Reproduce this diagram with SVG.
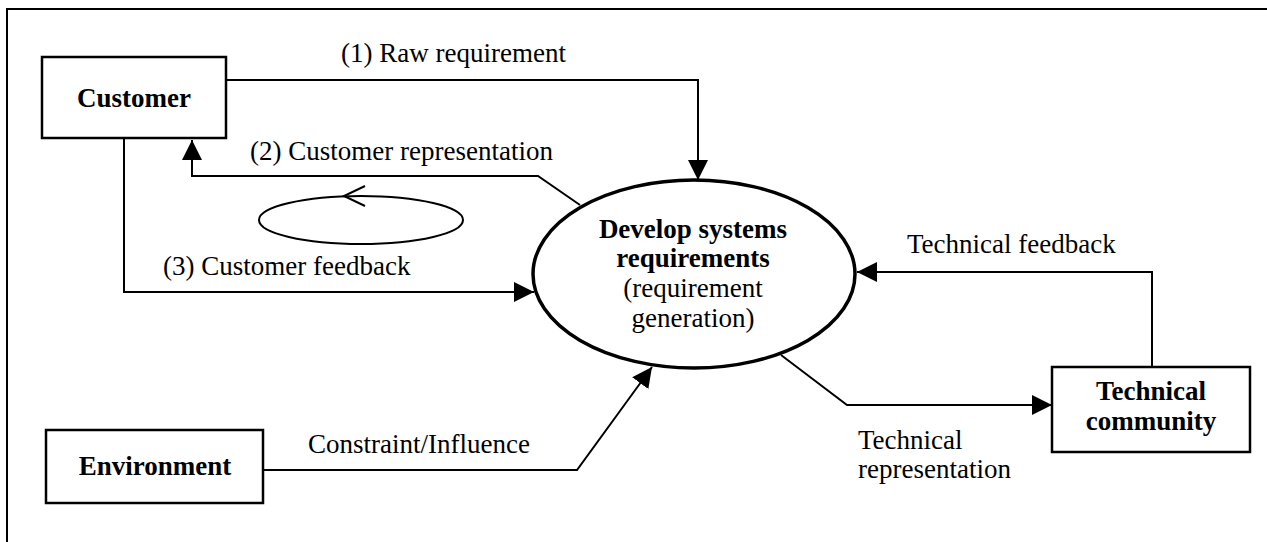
<svg xmlns="http://www.w3.org/2000/svg" width="1267" height="542" viewBox="0 0 1267 542">
<style>
text{font-family:"Liberation Serif","Times New Roman",serif;font-size:27px;fill:#000}
.b{font-weight:bold}
.c{text-anchor:middle}
.box{fill:#fff;stroke:#000;stroke-width:2.5}
.ln{fill:none;stroke:#000;stroke-width:2}
</style>
<defs>
<marker id="ah" viewBox="0 0 20 20" refX="20" refY="10" markerWidth="20" markerHeight="20" markerUnits="userSpaceOnUse" orient="auto">
<path d="M0,0 L20,10 L0,20 z" fill="#000"/>
</marker>
</defs>
<rect width="1267" height="542" fill="#fff"/>
<path class="ln" d="M7,542 V9 H1267"/>
<g id="connectors">
<path class="ln" d="M226,80 H698 V180" marker-end="url(#ah)"/>
<path class="ln" d="M580,205 L538,176 H192 V140" marker-end="url(#ah)"/>
<path class="ln" d="M124,138 V292 H534" marker-end="url(#ah)"/>
<path class="ln" d="M263,470 H577 L652,367" marker-end="url(#ah)"/>
<path class="ln" d="M1152,367 V272 H857" marker-end="url(#ah)"/>
<path class="ln" d="M781,355 L847,405 H1052" marker-end="url(#ah)"/>
<text x="341" y="62">(1) Raw requirement</text>
<text x="250" y="160">(2) Customer representation</text>
<text x="163" y="275">(3) Customer feedback</text>
<text x="308" y="453">Constraint/Influence</text>
<text x="907" y="253">Technical feedback</text>
<text x="858" y="449">Technical</text>
<text x="858" y="478">representation</text>
</g>
<g id="cycle">
<ellipse cx="361" cy="220" rx="102" ry="24" class="ln"/>
<path class="ln" d="M365,186 L344,196 L365,206"/>
</g>
<g id="customer">
<rect class="box" x="42" y="57" width="184" height="81"/>
<text class="b c" x="134" y="107">Customer</text>
</g>
<g id="environment">
<rect class="box" x="46" y="430" width="217" height="73"/>
<text class="b c" x="155" y="475">Environment</text>
</g>
<g id="technical">
<rect class="box" x="1052" y="367" width="198" height="85"/>
<text class="b c" x="1151" y="400">Technical</text>
<text class="b c" x="1151" y="430">community</text>
</g>
<g id="develop">
<ellipse cx="694" cy="274" rx="161" ry="94" fill="#fff" stroke="#000" stroke-width="3.5"/>
<text class="b c" x="693" y="238">Develop systems</text>
<text class="b c" x="693" y="267">requirements</text>
<text class="c" x="693" y="297">(requirement</text>
<text class="c" x="693" y="327">generation)</text>
</g>
</svg>
